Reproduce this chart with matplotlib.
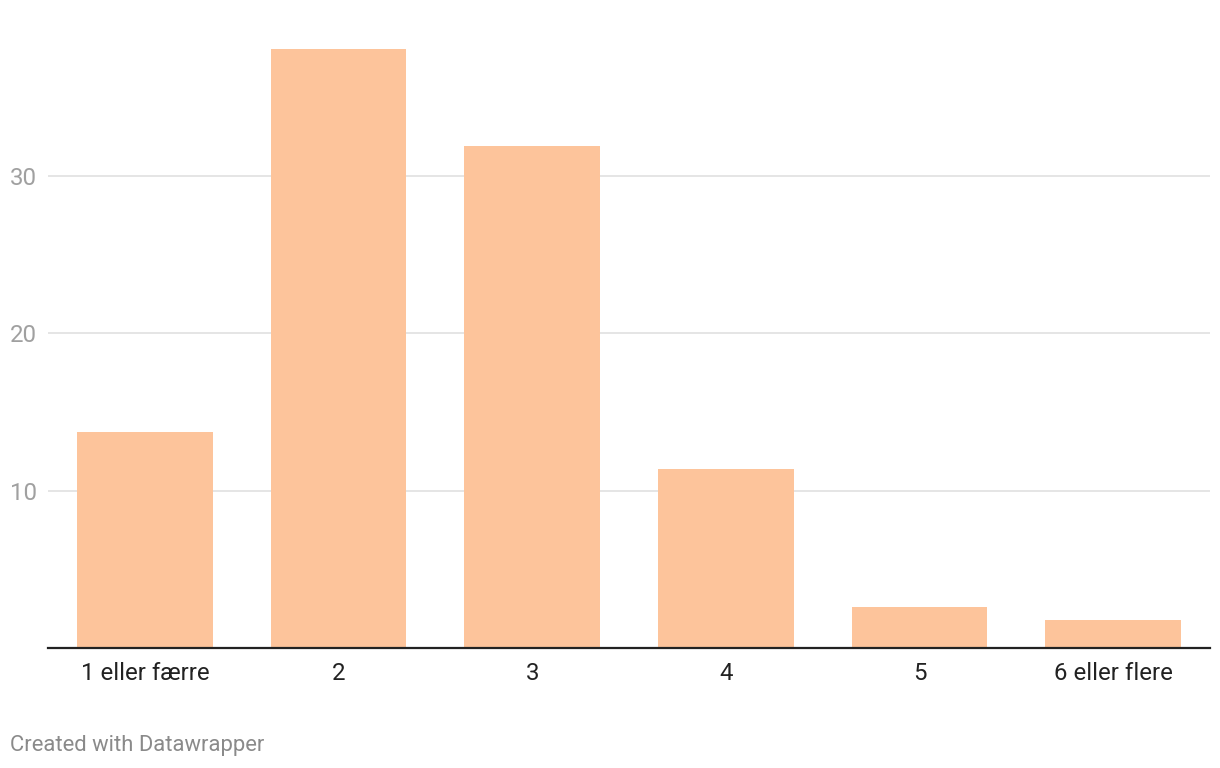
import matplotlib
matplotlib.use("Agg")
import matplotlib.pyplot as plt

categories = ["1 eller færre", "2", "3", "4", "5", "6 eller flere"]
values = [13.7, 38.1, 31.9, 11.4, 2.6, 1.8]
yticks = [10, 20, 30]

plt.rcParams['font.family'] = ['Roboto', 'DejaVu Sans']

W, H = 1220, 768
fig = plt.figure(figsize=(W / 100, H / 100), dpi=100)
left, right, bottom, top = 48, 1210, 648, 0
ax = fig.add_axes([left / W, 1 - bottom / H, (right - left) / W, (bottom - top) / H])

px_per_unit = (648 - 176) / 30.0
ymax = (bottom - top) / px_per_unit

x = list(range(len(categories)))
ax.bar(x, values, width=0.70, color="#fdc49b", zorder=2)
ax.set_xlim(-0.5, len(categories) - 0.5)
ax.set_ylim(0, ymax)

ax.set_yticks(yticks)
ax.set_yticklabels([str(t) for t in yticks])
ax.yaxis.grid(True, color="#e0e0e0", linewidth=1.2, zorder=0)
ax.tick_params(axis="y", length=0, pad=27.4, labelsize=17.3, labelcolor="#a0a0a0")
for lab in ax.get_yticklabels():
    lab.set_horizontalalignment("left")

ax.set_xticks(x)
ax.set_xticklabels(categories)
ax.tick_params(axis="x", length=0, pad=10, labelsize=17.3, labelcolor="#222222")

for s in ["top", "right", "left"]:
    ax.spines[s].set_visible(False)
ax.spines["bottom"].set_color("#222222")
ax.spines["bottom"].set_linewidth(1.6)
ax.spines["bottom"].set_zorder(3)

fig.text(10 / W, 1 - 745 / H, "Created with Datawrapper", fontsize=15.8,
         color="#8a8a8a", ha="left", va="center")

fig.savefig("out.png", dpi=100)
